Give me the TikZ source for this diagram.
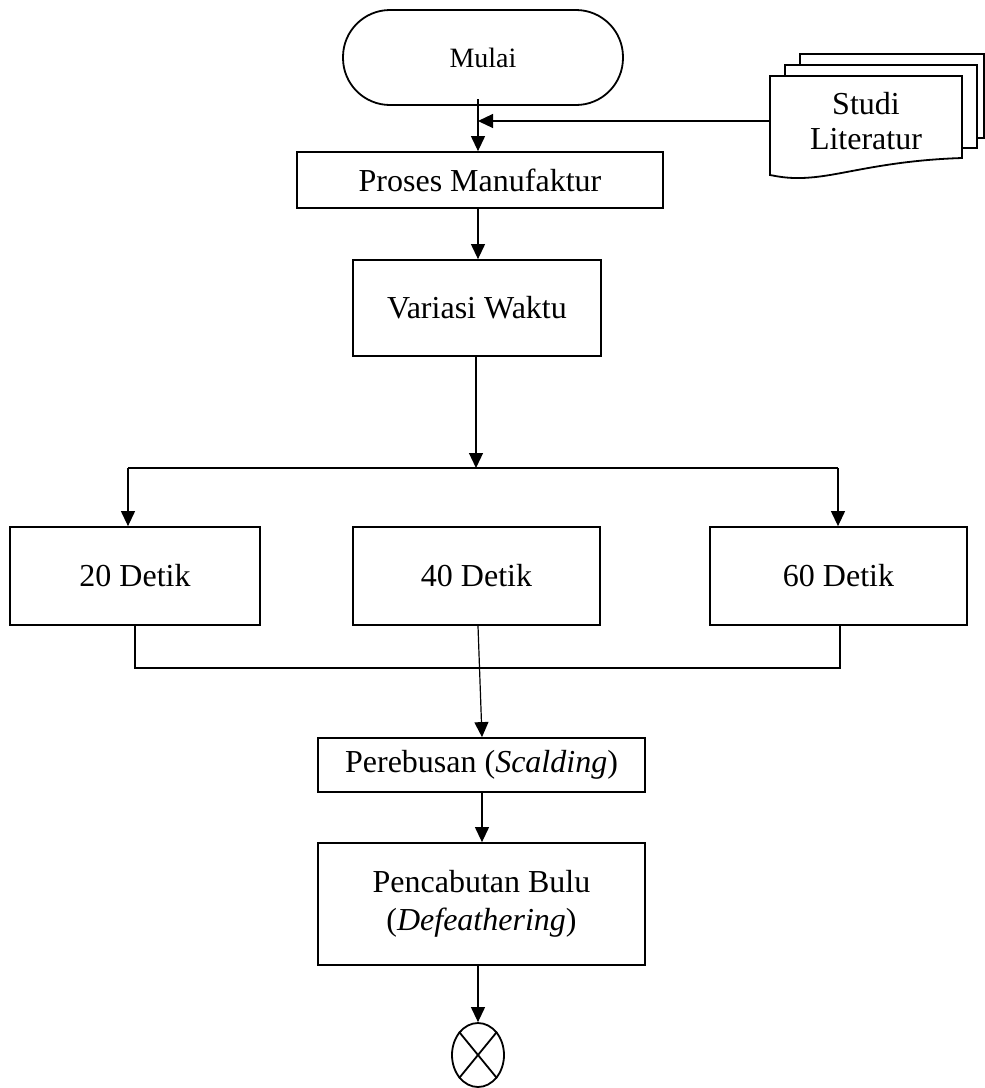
\documentclass[tikz,border=0pt]{standalone}
\usepackage{fontspec}
\setmainfont{Liberation Serif}
\usetikzlibrary{arrows.meta,shapes.geometric}
\begin{document}
\begin{tikzpicture}[x=1pt,y=-1pt,
  box/.style={draw,line width=1.8pt,align=center,inner sep=0pt,font=\fontsize{32}{38}\selectfont},
  conn/.style={line width=1.2pt},
  arr/.style={conn,-{Triangle[length=15pt,width=14pt]}}]
\useasboundingbox (0,0) rectangle (985,1088);
% start
\node[box,rounded corners=47pt,minimum width=280pt,minimum height=95pt,font=\fontsize{28}{34}\selectfont] (mulai) at (483,57.5) {Mulai};
\node[box,minimum width=366pt,minimum height=56pt] (proses) at (480,180) {Proses Manufaktur};
\node[box,minimum width=248pt,minimum height=96pt] (variasi) at (477,308) {Variasi Waktu};
\node[box,minimum width=250pt,minimum height=98pt] (d20) at (135,576) {20 Detik};
\node[box,minimum width=247pt,minimum height=98pt] (d40) at (476.5,576) {40 Detik};
\node[box,minimum width=257pt,minimum height=98pt] (d60) at (838.5,576) {60 Detik};
\node[box,minimum width=327pt,minimum height=54pt] (rebus) at (481.5,765) {Perebusan (\textit{Scalding})};
\node[box,minimum width=327pt,minimum height=122pt] (cabut) at (481.5,904) {Pencabutan Bulu\\(\textit{Defeathering})};
\node[draw,ellipse,line width=1.8pt,minimum width=52pt,minimum height=64pt,inner sep=0pt] (end) at (478,1055) {};
\draw[line width=1.8pt] (end.north west) -- (end.south east) (end.north east) -- (end.south west);
% multi document
\draw[line width=1.8pt,fill=white] (800,54) rectangle (984,138);
\draw[line width=1.8pt,fill=white] (785,65) rectangle (977,148);
\draw[line width=1.8pt,fill=white] (770,76) -- (962,76) -- (962,158)
  .. controls (900,160) and (860,170) .. (830,175)
  .. controls (800,180) and (785,178) .. (770,175) -- cycle;
\node[align=center,inner sep=0pt,font=\fontsize{32}{35}\selectfont] (studi) at (866,121) {Studi\\Literatur};
\coordinate (studiw) at (770,121);
% connectors
\coordinate (j1) at (478,121);
\draw[conn] (478,99) -- (j1);
\draw[arr] (j1) -- (j1 |- proses.north);
\draw[arr] (studiw) -- (j1);
\draw[arr] (proses.south -| 478,0) -- (variasi.north -| 478,0);
\coordinate (b1) at (476,468);
\draw[arr] (variasi.south -| b1) -- (b1);
\coordinate (bl) at (128,468);
\coordinate (br) at (838,468);
\draw[conn] (bl) -- (br);
\draw[arr] (bl) -- (bl |- d20.north);
\draw[arr] (br) -- (br |- d60.north);
\coordinate (cl) at (135,668);
\coordinate (cr) at (840,668);
\draw[conn] (cl |- d20.south) -- (cl) -- (cr) -- (cr |- d60.south);
\draw[arr] (d40.south -| 478,0) -- (rebus.north -| 482,0);
\draw[arr] (rebus.south -| 482,0) -- (cabut.north -| 482,0);
\draw[arr] (cabut.south -| end.north) -- (end.north);
\end{tikzpicture}
\end{document}
